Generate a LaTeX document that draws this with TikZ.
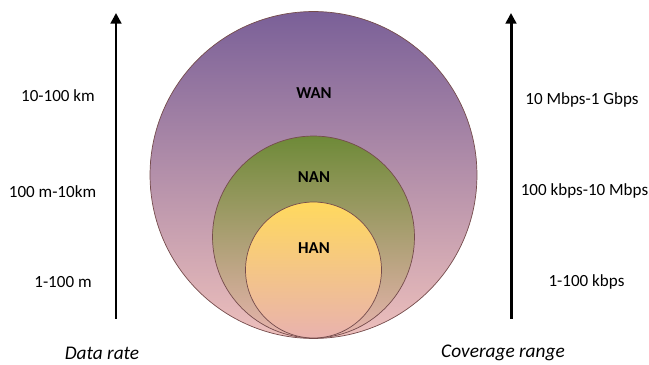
\documentclass[tikz,border=0pt]{standalone}
\usepackage{fontspec}
\setmainfont{Carlito}
\usetikzlibrary{arrows.meta}

\definecolor{wantop}{HTML}{7A6098}
\definecolor{wanmid}{HTML}{B48DA3}
\definecolor{wanbot}{HTML}{EEC0BC}
\definecolor{nantop}{HTML}{6E8A38}
\definecolor{nanmid}{HTML}{B5A27E}
\definecolor{nanbot}{HTML}{E8B4AE}
\definecolor{hantop}{HTML}{FFD95E}
\definecolor{hanmid}{HTML}{F6C28E}
\definecolor{hanbot}{HTML}{E9B2AE}

\tikzset{
  zone/.style={circle, draw=black!60!red!40!gray, line width=0.4pt, inner sep=0pt},
  zonename/.style={font=\fontsize{9.5}{11}\selectfont\bfseries},
  scale label/.style={font=\fontsize{9.7}{11}\selectfont},
  axis name/.style={font=\fontsize{11}{13}\selectfont\itshape},
  axis/.style={line width=1.7pt, -{Triangle[length=6pt, width=6pt]}}
}

\begin{document}
\begin{tikzpicture}[x=0.02cm, y=0.02cm]
  \useasboundingbox (0,0) rectangle (649,365);
  % nested zones, all touching at the bottom
  \node [zone, minimum size=6.54cm, top color=wantop, middle color=wanmid, bottom color=wanbot] (wan) at (313.5,190) {};
  \node [zone, minimum size=4.04cm, top color=nantop, middle color=nanmid, bottom color=nanbot] (nan) at (313.5,128) {};
  \node [zone, minimum size=2.72cm, top color=hantop, middle color=hanmid, bottom color=hanbot] (han) at (313.5,95) {};
  \node [zonename] (wanname) at (314,272) {WAN};
  \node [zonename] (nanname) at (314,188) {NAN};
  \node [zonename] (hanname) at (314,117) {HAN};
  % axes
  \coordinate (l0) at (116,46);
  \coordinate (l1) at (116,352);
  \coordinate (r0) at (511,46);
  \coordinate (r1) at (511,352);
  \draw [axis] (l0) -- (l1);
  \draw [axis] (r0) -- (r1);
  \node [scale label] (lwan) at (58,269) {10-100 km};
  \node [scale label] (lnan) at (52.5,173) {100 m-10km};
  \node [scale label] (lhan) at (63,83) {1-100 m};
  \node [scale label] (rwan) at (582,265) {10 Mbps-1 Gbps};
  \node [scale label] (rnan) at (584.5,174) {100 kbps-10 Mbps};
  \node [scale label] (rhan) at (586.5,83) {1-100 kbps};
  \node [axis name] (lname) at (102,12) {Data rate};
  \node [axis name] (rname) at (503,12) {Coverage range};
\end{tikzpicture}
\end{document}
